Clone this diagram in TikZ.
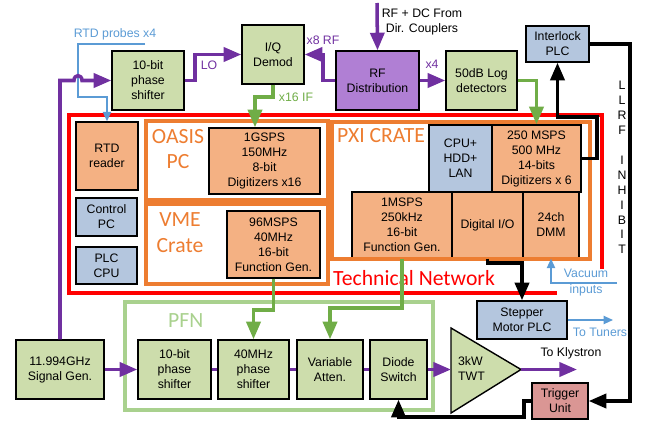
\documentclass[tikz,border=0pt]{standalone}
\usepackage{fontspec}
\setmainfont{Liberation Sans}
\newfontfamily\calfont{Carlito}
\usetikzlibrary{arrows.meta}

\definecolor{devgreen}{HTML}{CDDDAC}
\definecolor{cardorange}{HTML}{F4B183}
\definecolor{ctrlblue}{HTML}{B4C6DE}
\definecolor{distpurple}{HTML}{B07FD4}
\definecolor{trigred}{HTML}{DA9694}
\definecolor{rfpurple}{HTML}{7030A0}
\definecolor{siggreen}{HTML}{70AD47}
\definecolor{pfngreen}{HTML}{A9D18E}
\definecolor{crateorange}{HTML}{ED7D31}
\definecolor{probeblue}{HTML}{5B9BD5}

\begin{document}
\begin{tikzpicture}[x=0.03cm,y=-0.03cm,>={Triangle[length=15pt,width=12pt]},
                    font=\fontsize{10.5}{12.8}\selectfont]
  \tikzstyle{box}=[draw=black,line width=1.2pt,align=center,inner sep=0pt]
  \tikzstyle{dev}=[box,fill=devgreen]
  \tikzstyle{card}=[box,fill=cardorange]
  \tikzstyle{ctrl}=[box,fill=ctrlblue]
  \tikzstyle{frame}=[line width=3.2pt]
  \tikzstyle{title}=[font=\calfont\fontsize{18.5}{22}\selectfont,align=center,inner sep=0pt]
  \tikzstyle{rf}=[draw=rfpurple,line width=3pt]
  \tikzstyle{sig}=[draw=siggreen,line width=3pt]
  \tikzstyle{ctl}=[draw=black,line width=3pt]
  \tikzstyle{probe}=[draw=probeblue,line width=1.3pt,-{Triangle[length=8pt,width=7pt]}]

  \useasboundingbox (0,0) rectangle (648,420);

  % frames
  \draw[frame,red] (557,293) -- (69,293) -- (69,115) -- (602,115) -- (602,269);
  \draw[frame,crateorange] (146,121) rectangle (328,200);
  \draw[frame,crateorange] (146,204) rectangle (328,284);
  \draw[frame,pfngreen] (125,302) rectangle (433,410);

  \node[title,crateorange] (oasis) at (178,149) {OASIS\\PC};
  \node[title,crateorange] (vme)   at (180,233) {VME\\Crate};
  \node[title,crateorange,anchor=base west] (pxi) at (337,142) {PXI CRATE};
  \node[title,red,anchor=base west] (tnet) at (333,285) {Technical Network};
  \node[title,pfngreen,anchor=base west] (pfn) at (168,327) {PFN};

  % top row
  \node[dev,minimum width=2.16cm,minimum height=1.77cm] (PSa) at (148,80.5) {10-bit\\phase\\shifter};
  \node[dev,minimum width=1.86cm,minimum height=1.77cm] (IQ) at (273,54.5) {I/Q\\Demod};
  \node[box,fill=distpurple,minimum width=2.49cm,minimum height=1.77cm] (RFD) at (377.5,80.5) {RF\\Distribution};
  \node[dev,minimum width=2.13cm,minimum height=1.77cm] (LOG) at (481.5,80.5) {50dB Log\\detectors};
  \node[ctrl,minimum width=1.89cm,minimum height=1.08cm] (ILK) at (557.5,44) {Interlock\\PLC};

  % technical network
  \node[card,minimum width=1.86cm,minimum height=2.04cm] (RTD) at (107,156) {RTD\\reader};
  \node[ctrl,minimum width=1.83cm,minimum height=1.14cm] (CPC) at (106.5,217) {Control\\PC};
  \node[ctrl,minimum width=1.83cm,minimum height=1.11cm] (PLC) at (106.5,265.5) {PLC\\CPU};
  \node[card,minimum width=3.33cm,minimum height=1.98cm] (DIG1) at (264.5,161) {1GSPS\\150MHz\\8-bit\\Digitizers x16};
  \node[card,minimum width=2.79cm,minimum height=2.01cm] (FG1) at (273.5,244.5) {96MSPS\\40MHz\\16-bit\\Function Gen.};
  \node[ctrl,minimum width=1.89cm,minimum height=2.01cm] (CPU) at (460.5,158.5) {CPU+\\HDD+\\LAN};
  \node[card,minimum width=2.67cm,minimum height=2.01cm] (DIG2) at (536.5,158.5) {250 MSPS\\500 MHz\\14-bits\\Digitizers x 6};
  \node[card,minimum width=3.00cm,minimum height=1.98cm] (FG2) at (402,225) {1MSPS\\250kHz\\16-bit\\Function Gen.};
  \node[card,minimum width=2.13cm,minimum height=1.98cm] (DIO) at (487.5,225) {Digital I/O};
  \node[card,minimum width=1.68cm,minimum height=1.98cm] (DMM) at (551,225) {24ch\\DMM};
  \draw[frame,crateorange] (332,122) rectangle (590,259);

  \node[ctrl,minimum width=2.70cm,minimum height=1.14cm] (STP) at (522,320) {Stepper\\Motor PLC};

  % PFN chain
  \node[dev,minimum width=2.64cm,minimum height=1.77cm] (SG) at (60,369.5) {11.994GHz\\Signal Gen.};
  \node[dev,minimum width=2.19cm,minimum height=1.77cm] (PSb) at (174.5,369.5) {10-bit\\phase\\shifter};
  \node[dev,minimum width=2.13cm,minimum height=1.77cm] (PS40) at (253.5,369.5) {40MHz\\phase\\shifter};
  \node[dev,minimum width=1.98cm,minimum height=1.77cm] (ATT) at (330,369.5) {Variable\\Atten.};
  \node[dev,minimum width=1.71cm,minimum height=1.77cm] (DSW) at (398.5,369.5) {Diode\\Switch};
  \draw[box,fill=devgreen] (451,328) -- (521,369.5) -- (451,413) -- cycle;
  \coordinate (TWTin) at (451,369.5);
  \coordinate (TWTout) at (521,369.5);
  \node[align=left,anchor=west] (TWT) at (454,369) {3kW\\TWT};
  \node[box,fill=trigred,minimum width=1.68cm,minimum height=1.08cm] (TRG) at (560,401) {Trigger\\Unit};

  % free ends
  \coordinate (cpl) at (377,3);
  \coordinate (rtdp) at (145,44);
  \coordinate (vac) at (617,283);
  \coordinate (tuners) at (613,320);
  \coordinate (kly) at (577,369.5);

  % labels
  \node[align=center] at (422,22) {RF + DC From\\Dir. Couplers};
  \node[probeblue] at (115,34) {RTD probes x4};
  \node[rfpurple] at (209,65) {LO};
  \node[rfpurple] at (323,40) {x8 RF};
  \node[rfpurple] at (432,64) {x4};
  \node[siggreen] at (296,97) {x16 IF};
  \node[probeblue] at (586,273) {Vacuum};
  \node[probeblue] at (586,290) {inputs};
  \node[probeblue] at (600,332) {To Tuners};
  \node at (571,353) {To Klystron};
  \node[align=center,font=\fontsize{10.5}{12.75}\selectfont] (inh) at (622,167.5)
       {L\\L\\R\\F\\\mbox{}\\I\\N\\H\\I\\B\\I\\T};

  % blue probe lines
  \draw[probe] (rtdp) -| (78,97) -| (RTD.north);
  \draw[probe] (vac) -| (DMM.south);
  \draw[probe] (STP.east) -- (tuners);

  % RF paths
  \draw[rf,->] (SG.north) -- (60,80.5) -- (74,80.5) .. controls (74,74) and (82,74) .. (82,80.5) -- (PSa.west);
  \draw[rf,->] (PSa.east) -- (195,80.5) |- (IQ.west);
  \draw[rf,->] (RFD.west) -- (323,80.5) |- (IQ.east);
  \draw[rf,->] (RFD.east) -- (LOG.west);
  \draw[rf,->] (cpl) -- (RFD.north);
  \draw[rf,->] (SG.east) -- (PSb.west);
  \draw[rf] (PSb.east) -- (PS40.west);
  \draw[rf] (PS40.east) -- (ATT.west);
  \draw[rf] (ATT.east) -- (DSW.west);
  \draw[rf,->] (DSW.east) -- (TWTin);
  \draw[rf,->] (TWTout) -- (kly);

  % signal paths
  \draw[sig,->] (IQ.south) -- (273,97) -| (255,0 |- DIG1.north);
  \draw[sig,->] (LOG.east) -| (DIG2.north);
  \draw[sig,->] (FG1.south) -- (273.5,310) -| (PS40.north);
  \draw[sig,->] (FG2.south) -- (402,308) -| (ATT.north);

  % control paths
  \draw[ctl,->] (DIG2.east) -- (597,158.5) -- (597,117) -| (ILK.south);
  \draw[ctl,->] (ILK.east) -- (630,44) |- (TRG.east);
  \draw[ctl,->] (TRG.west) -- (524,401) |- (398.5,417) -- (DSW.south);
  \draw[ctl,->] (DIO.south) -- (487.5,263) -| (STP.north);
\end{tikzpicture}
\end{document}
